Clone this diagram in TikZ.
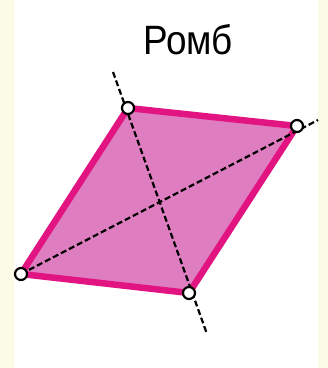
\documentclass[tikz,border=0pt]{standalone}
\usepackage{fontspec}
\setmainfont{Liberation Sans}
\usetikzlibrary{positioning}
\definecolor{cream}{RGB}{252,252,230}
\definecolor{rhombfill}{RGB}{222,125,192}
\definecolor{rhombedge}{RGB}{226,20,130}

\begin{document}
\begin{tikzpicture}[x=1pt,y=-1pt,
  vertex/.style={circle,draw,fill=white,line width=2.2pt,inner sep=0pt,minimum size=12pt},
  diag/.style={dashed,line width=2.2pt,dash pattern=on 6pt off 3pt}]
  \fill[cream] (0,0) rectangle (328,368);
  \fill[white] (14,0) rectangle (318,368);
  \node[xscale=0.9] (title) at (188,40) {\fontsize{41}{41}\selectfont Ромб};
  \coordinate (T) at (128,108);
  \coordinate (R) at (297,126);
  \coordinate (B) at (189,293);
  \coordinate (L) at (21,274);
  \coordinate (Tend) at (113,72);
  \coordinate (Bend) at (207,334);
  \coordinate (Rend) at (318,120);
  \filldraw[fill=rhombfill,draw=rhombedge,line width=6.5pt,line join=round]
    (T) -- (R) -- (B) -- (L) -- cycle;
  \draw[diag] (Tend) -- (Bend);
  \draw[diag] (L) -- (Rend);
  \node[vertex] (t) at (T) {};
  \node[vertex] (r) at (R) {};
  \node[vertex] (b) at (B) {};
  \node[vertex] (l) at (L) {};
\end{tikzpicture}
\end{document}
